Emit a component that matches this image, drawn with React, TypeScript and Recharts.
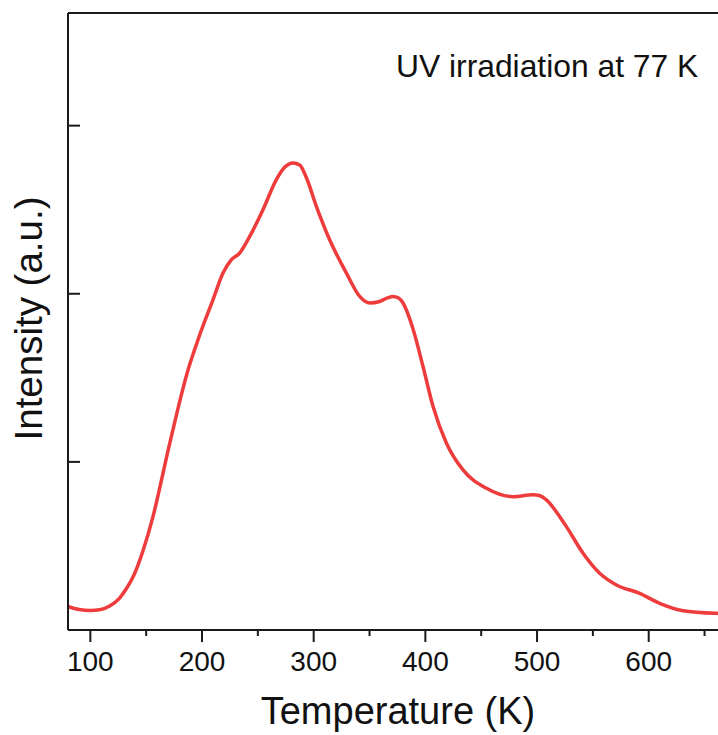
import { LineChart, Line, XAxis, YAxis, ReferenceLine } from 'recharts'

// (K, arbitrary units)
const temperature = [
  79.7, 90, 100, 108.3, 117.3, 126.2, 132.2, 138.2, 142.6, 147.1, 156.1, 163, 169, 175, 181, 187.4, 193,
  197.9, 209.8, 218.8, 226, 233.7, 242.7, 254.6, 266.6, 274.0, 281.5, 287.5, 293.5, 302.4, 314.3, 329.3,
  341.2, 350.2, 359.1, 366, 371.0, 376, 380.0, 388.9, 397.9, 406.9, 418.9, 433.7, 454.7, 478.5,
  496.4, 502, 508.4, 520.3, 526.3, 541.2, 556.1, 571.1, 591.9, 609.8, 630.8, 660.7, 671,
]
const intensity = [
  0.14, 0.122, 0.116, 0.12, 0.143, 0.19, 0.245, 0.315, 0.385, 0.47, 0.674, 0.87, 1.05, 1.22, 1.385, 1.545, 1.66,
  1.755, 1.964, 2.123, 2.2, 2.242, 2.341, 2.5, 2.679, 2.752, 2.778, 2.766, 2.69, 2.52, 2.321, 2.123,
  1.984, 1.945, 1.954, 1.975, 1.984, 1.975, 1.945, 1.792, 1.567, 1.329, 1.111, 0.952, 0.843, 0.793,
  0.804, 0.8, 0.774, 0.674, 0.615, 0.457, 0.338, 0.268, 0.218, 0.159, 0.115, 0.099, 0.097,
]

const xTicks = [100, 150, 200, 250, 300, 350, 400, 450, 500, 550, 600, 650]
const yTicks = [0, 1, 2, 3]
const xDomain = [80, 671]
const yDomain = [0, 3.67]

const annotation = 'UV irradiation at 77 K'
const xTitle = 'Temperature (K)'
const yTitle = 'Intensity (a.u.)'

const data = temperature.map((t, i) => ({ t, v: intensity[i] }))

const FONT = '"Liberation Sans", Arial, sans-serif'
const AXIS = '#1a1a1a'

function XTick({ x, y, payload }: any) {
  const major = payload.value % 100 === 0
  return (
    <g>
      <line x1={x} x2={x} y1={y} y2={y + (major ? 12 : 6)} stroke={AXIS} strokeWidth={2} />
      {major && (
        <text x={x} y={y + 41} textAnchor="middle" fontSize={28} fontFamily={FONT} fill="#111">
          {payload.value}
        </text>
      )}
    </g>
  )
}

function YTick({ x, y }: any) {
  return <line x1={x} x2={x + 12} y1={y} y2={y} stroke={AXIS} strokeWidth={2} />
}

function YTitle() {
  return (
    <text
      transform="translate(42,318.5) rotate(-90)"
      textAnchor="middle"
      fontSize={38.5}
      fontFamily={FONT}
      fill="#111"
    >
      {yTitle}
    </text>
  )
}

function Note() {
  return (
    <text x={396} y={77} fontSize={31.8} fontFamily={FONT} fill="#111">
      {annotation}
    </text>
  )
}

export default function App() {
  return (
    <div
      style={{
        position: 'fixed',
        left: 0,
        top: 0,
        width: 718,
        height: 735,
        overflow: 'hidden',
        background: '#fff',
      }}
    >
      <LineChart width={740} height={735} data={data} margin={{ top: 13, right: 12, bottom: 0, left: 0 }}>
        <XAxis
          dataKey="t"
          type="number"
          domain={xDomain}
          ticks={xTicks}
          allowDataOverflow
          height={105}
          tickSize={0}
          tickMargin={0}
          tick={<XTick />}
          tickLine={false}
          axisLine={{ stroke: AXIS, strokeWidth: 2 }}
          label={{ value: xTitle, position: 'insideBottom', offset: 11, fontSize: 38, fontFamily: FONT, fill: '#111' }}
        />
        <YAxis
          type="number"
          domain={yDomain}
          ticks={yTicks}
          allowDataOverflow
          width={68}
          tickSize={0}
          tickMargin={0}
          tick={<YTick />}
          tickLine={false}
          axisLine={{ stroke: AXIS, strokeWidth: 2 }}
          label={<YTitle />}
        />
        <ReferenceLine y={yDomain[1]} stroke={AXIS} strokeWidth={2} label={<Note />} />
        <ReferenceLine x={xDomain[1]} stroke={AXIS} strokeWidth={2} />
        <Line
          type="monotone"
          dataKey="v"
          stroke="#ee3b3b"
          strokeWidth={3.5}
          dot={false}
          isAnimationActive={false}
        />
      </LineChart>
    </div>
  )
}
